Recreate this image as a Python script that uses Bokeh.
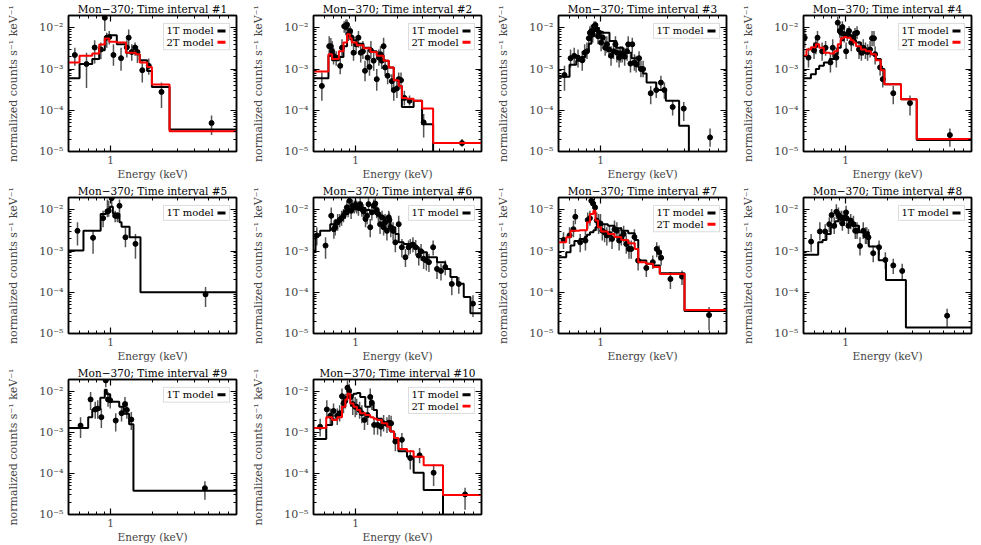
import math
from bokeh.plotting import figure
from bokeh.layouts import gridplot
from bokeh.models import (LogAxis, FixedTicker, CustomJSTickFormatter, BoxAnnotation,
                          Label, Range1d)
from bokeh.embed import file_html
from bokeh.resources import INLINE

# ---------------- axes / text ----------------
X_RANGE = (0.5, 8.0)
Y_RANGE = (1e-5, 2e-2)
X_MAJOR = [1.0]
X_MINOR = [0.5, 0.6, 0.7, 0.8, 0.9, 2.0, 3.0, 4.0, 5.0, 6.0, 7.0, 8.0, 9.0]
Y_MAJOR = [1e-5, 1e-4, 1e-3, 1e-2]
Y_MINOR = [m * 10.0 ** k for k in range(-5, -1) for m in range(2, 10)]
TITLE = "Mon\u2212370; Time interval #{}"
X_LABEL = "Energy (keV)"
Y_LABEL = "normalized counts s\u207b\u00b9 keV\u207b\u00b9"
LEG_1T = "1T model"
LEG_2T = "2T model"

# ---------------- panel 1 ----------------
p1_e = [0.555, 0.673, 0.77, 0.853, 0.91, 0.94, 0.98, 1.05, 1.19, 1.31, 1.35, 1.42, 1.50, 1.56, 1.69, 1.88, 2.32, 5.3]
p1_y = [2.2e-3, 1.33e-3, 3.35e-3, 3.0e-3, 1.76e-2, 5.8e-3, 6.0e-3, 2.2e-3, 1.84e-3, 3.35e-3, 5.8e-3, 2.6e-3, 3.35e-3, 2.6e-3, 9.4e-4, 1.2e-3, 2.8e-4, 4.9e-5]
p1_lo = [1.2e-3, 3.5e-4, 1.36e-3, 1.74e-3, 8.4e-3, 3.3e-3, 3.95e-3, 1.2e-3, 9.1e-4, 1.9e-3, 3.3e-3, 1.6e-3, 2.1e-3, 1.4e-3, 4.7e-4, 7.3e-4, 1.14e-4, 2.5e-5]
p1_hi = [3.3e-3, 2.5e-3, 5.0e-3, 4.4e-3, 2.4e-2, 7.6e-3, 8.4e-3, 4.0e-3, 3.3e-3, 5.0e-3, 9.2e-3, 4.0e-3, 4.4e-3, 3.6e-3, 1.6e-3, 1.8e-3, 4.7e-4, 7.5e-5]
p1_edges = [0.5, 0.6, 0.74, 0.83, 0.91, 0.98, 1.11, 1.29, 1.52, 1.62, 1.83, 1.98, 2.65, 8.0]
p1_m1 = [6.0e-4, 1.33e-3, 1.75e-3, 2.85e-3, 5.5e-3, 6.6e-3, 4.0e-3, 2.5e-3, 2.3e-3, 1.63e-3, 9.0e-4, 3.7e-4, 3.4e-5]
p1_m2 = [1.44e-3, 2.1e-3, 2.4e-3, 3.95e-3, 5.5e-3, 4.6e-3, 4.4e-3, 2.5e-3, 2.3e-3, 1.44e-3, 1.13e-3, 4.2e-4, 3.1e-5]

# ---------------- panel 2 ----------------
p2_e = [0.574, 0.648, 0.666, 0.68, 0.696, 0.727, 0.777, 0.80, 0.83, 0.854, 0.87, 0.89, 0.916, 0.94, 0.968, 1.01, 1.05, 1.09, 1.13, 1.17, 1.22, 1.26, 1.29, 1.35, 1.42, 1.47, 1.51, 1.54, 1.59, 1.63, 1.70, 1.82, 1.88, 1.98, 2.04, 2.12, 2.24, 2.44, 3.08, 5.8]
p2_y = [3.9e-4, 3.6e-3, 3.6e-3, 2.7e-3, 2.1e-3, 1.9e-3, 1.2e-3, 3.3e-3, 1.1e-2, 1.05e-2, 1.2e-2, 7.0e-3, 8.4e-3, 5.8e-3, 2.5e-3, 4.0e-3, 5.8e-3, 2.5e-3, 2.7e-3, 9.1e-4, 1.9e-3, 1.13e-3, 2.85e-3, 1.6e-3, 5.7e-4, 1.9e-3, 2.3e-3, 1.6e-3, 3.6e-3, 1.1e-3, 6.9e-4, 5.1e-4, 3.1e-4, 3.4e-4, 5.7e-4, 5.4e-4, 2.0e-4, 1.7e-4, 5.1e-5, 1.6e-5]
p2_lo = [1.7e-4, 2.3e-3, 2.1e-3, 1.6e-3, 1.3e-3, 1.2e-3, 7.5e-4, 1.9e-3, 7.6e-3, 7.0e-3, 8.4e-3, 4.8e-3, 5.3e-3, 3.6e-3, 1.6e-3, 2.3e-3, 3.3e-3, 1.45e-3, 1.75e-3, 5.1e-4, 1.1e-3, 6.9e-4, 1.75e-3, 9.1e-4, 3.0e-4, 1.2e-3, 1.45e-3, 1.0e-3, 2.3e-3, 6.9e-4, 4.3e-4, 3.3e-4, 1.7e-4, 2.0e-4, 3.6e-4, 3.3e-4, 1.3e-4, 1.3e-4, 2.2e-5, 1.3e-5]
p2_hi = [8.3e-4, 6.3e-3, 5.7e-3, 4.8e-3, 3.3e-3, 2.7e-3, 2.1e-3, 5.3e-3, 1.46e-2, 1.6e-2, 1.6e-2, 1.0e-2, 1.1e-2, 8.4e-3, 4.0e-3, 6.3e-3, 8.4e-3, 4.0e-3, 4.8e-3, 1.6e-3, 3.0e-3, 1.75e-3, 4.8e-3, 2.7e-3, 1.0e-3, 3.0e-3, 3.6e-3, 2.5e-3, 5.8e-3, 1.75e-3, 1.1e-3, 7.5e-4, 5.1e-4, 5.1e-4, 8.3e-4, 8.3e-4, 3.0e-4, 2.3e-4, 8.1e-5, 2.0e-5]
p2_edges = [0.5, 0.64, 0.68, 0.76, 0.82, 0.87, 0.91, 0.94, 1.02, 1.14, 1.28, 1.42, 1.59, 1.73, 1.88, 2.04, 2.15, 2.34, 2.61, 3.0, 3.6, 8.0]
p2_m1 = [6.0e-4, 2.1e-3, 1.63e-3, 1.98e-3, 3.6e-3, 7.0e-3, 6.3e-3, 5.0e-3, 4.1e-3, 3.3e-3, 2.7e-3, 2.2e-3, 1.6e-3, 1.1e-3, 5.4e-4, 3.9e-4, 1.2e-4, 1.2e-4, 1.7e-4, 4.6e-5, 1e-7]
p2_m2 = [8.7e-4, 2.3e-3, 1.75e-3, 2.7e-3, 4.4e-3, 7.0e-3, 5.6e-3, 4.4e-3, 3.8e-3, 3.2e-3, 2.6e-3, 2.1e-3, 1.6e-3, 1.1e-3, 5.4e-4, 3.9e-4, 2.0e-4, 1.9e-4, 1.7e-4, 1.1e-4, 1.6e-5]

# ---------------- panel 3 ----------------
p3_e = [0.552, 0.61, 0.648, 0.69, 0.74, 0.77, 0.80, 0.825, 0.84, 0.86, 0.88, 0.90, 0.92, 0.94, 0.96, 0.98, 1.01, 1.04, 1.08, 1.11, 1.15, 1.19, 1.24, 1.28, 1.31, 1.36, 1.39, 1.43, 1.49, 1.55, 1.58, 1.64, 1.69, 1.75, 1.80, 1.89, 1.95, 2.02, 2.29, 2.51, 2.71, 2.87, 3.29, 3.95, 6.1]
p3_y = [7.2e-4, 1.84e-3, 2.1e-3, 1.9e-3, 1.63e-3, 2.5e-3, 2.7e-3, 5.6e-3, 7.6e-3, 8.4e-3, 7.0e-3, 1.1e-2, 1.17e-2, 9.2e-3, 6.3e-3, 7.6e-3, 4.4e-3, 5.8e-3, 3.3e-3, 4.0e-3, 3.0e-3, 2.1e-3, 2.7e-3, 4.0e-3, 2.5e-3, 1.9e-3, 2.4e-3, 2.3e-3, 2.0e-3, 2.7e-3, 4.0e-3, 1.36e-3, 4.0e-3, 1.45e-3, 1.3e-3, 1.84e-3, 1.0e-3, 1.0e-3, 2.6e-4, 3.1e-4, 4.7e-4, 3.1e-4, 1.2e-4, 1.1e-4, 2.2e-5]
p3_lo = [3.0e-4, 1.1e-3, 1.3e-3, 1.1e-3, 9.1e-4, 1.6e-3, 1.75e-3, 3.6e-3, 4.8e-3, 5.8e-3, 4.4e-3, 7.6e-3, 8.4e-3, 6.3e-3, 4.0e-3, 5.3e-3, 2.7e-3, 3.6e-3, 2.1e-3, 2.5e-3, 1.9e-3, 1.2e-3, 1.75e-3, 2.5e-3, 1.45e-3, 1.1e-3, 1.45e-3, 1.45e-3, 1.2e-3, 1.6e-3, 2.5e-3, 8.3e-4, 2.5e-3, 9.1e-4, 8.3e-4, 1.2e-3, 6.3e-4, 6.3e-4, 1.4e-4, 2.0e-4, 3.0e-4, 1.9e-4, 7.5e-5, 5.5e-5, 1.3e-5]
p3_hi = [1.2e-3, 3.0e-3, 3.3e-3, 3.0e-3, 2.7e-3, 4.0e-3, 4.4e-3, 8.4e-3, 1.1e-2, 1.2e-2, 1.0e-2, 1.46e-2, 1.46e-2, 1.26e-2, 9.2e-3, 1.05e-2, 7.0e-3, 8.4e-3, 5.3e-3, 6.3e-3, 4.8e-3, 3.6e-3, 4.4e-3, 6.3e-3, 4.0e-3, 3.3e-3, 3.6e-3, 3.6e-3, 3.3e-3, 4.4e-3, 6.3e-3, 2.3e-3, 5.8e-3, 2.3e-3, 2.1e-3, 2.7e-3, 1.6e-3, 1.6e-3, 3.9e-4, 4.7e-4, 6.9e-4, 4.7e-4, 1.7e-4, 1.6e-4, 3.6e-5]
p3_edges = [0.5, 0.60, 0.67, 0.73, 0.78, 0.825, 0.86, 0.90, 0.93, 0.97, 1.04, 1.16, 1.30, 1.45, 1.67, 1.87, 2.02, 2.14, 2.51, 2.94, 3.66, 4.3, 8.0]
p3_m1 = [6.5e-4, 1.27e-3, 1.6e-3, 1.98e-3, 2.7e-3, 4.1e-3, 6.3e-3, 8.7e-3, 1.0e-2, 8.1e-3, 7.6e-3, 4.8e-3, 3.3e-3, 2.5e-3, 1.84e-3, 1.1e-3, 7.8e-4, 4.7e-4, 3.1e-4, 1.7e-4, 4.2e-5, 1e-7]

# ---------------- panel 4 ----------------
p4_e = [0.51, 0.543, 0.595, 0.613, 0.63, 0.68, 0.72, 0.78, 0.81, 0.86, 0.88, 0.91, 0.93, 0.95, 0.98, 1.01, 1.03, 1.06, 1.10, 1.14, 1.17, 1.21, 1.25, 1.30, 1.34, 1.39, 1.44, 1.50, 1.55, 1.60, 1.63, 1.77, 1.85, 2.2, 2.9, 5.6]
p4_y = [5.8e-3, 1.9e-3, 2.85e-3, 3.8e-3, 5.8e-3, 2.7e-3, 3.3e-3, 1.45e-3, 3.3e-3, 1.9e-3, 1.34e-2, 8.4e-3, 7.6e-3, 1.05e-2, 7.0e-3, 2.7e-3, 7.0e-3, 8.4e-3, 4.4e-3, 5.8e-3, 7.3e-3, 7.6e-3, 3.0e-3, 2.5e-3, 3.3e-3, 2.7e-3, 2.6e-3, 3.0e-3, 5.6e-3, 5.6e-3, 2.3e-3, 1.1e-3, 5.7e-4, 2.6e-4, 1.5e-4, 2.5e-5]
p4_lo = [3.3e-3, 1.1e-3, 1.75e-3, 2.3e-3, 3.6e-3, 1.6e-3, 2.1e-3, 8.3e-4, 1.9e-3, 1.1e-3, 8.4e-3, 5.8e-3, 5.3e-3, 7.0e-3, 4.4e-3, 1.75e-3, 4.8e-3, 5.8e-3, 2.7e-3, 3.6e-3, 4.8e-3, 5.3e-3, 1.75e-3, 1.6e-3, 2.1e-3, 1.75e-3, 1.6e-3, 1.9e-3, 3.6e-3, 3.6e-3, 1.3e-3, 6.9e-4, 3.6e-4, 1.4e-4, 7.5e-5, 1.3e-5]
p4_hi = [9.2e-3, 3.3e-3, 4.4e-3, 5.8e-3, 8.4e-3, 4.4e-3, 4.8e-3, 2.3e-3, 5.3e-3, 3.3e-3, 1.9e-2, 1.2e-2, 1.05e-2, 1.46e-2, 1.0e-2, 4.4e-3, 1.0e-2, 1.1e-2, 7.0e-3, 8.4e-3, 1.0e-2, 1.1e-2, 4.8e-3, 4.0e-3, 5.3e-3, 4.4e-3, 4.0e-3, 4.8e-3, 8.4e-3, 8.4e-3, 3.6e-3, 1.75e-3, 9.1e-4, 3.9e-4, 2.3e-4, 3.6e-5]
p4_edges = [0.5, 0.525, 0.565, 0.613, 0.648, 0.70, 0.77, 0.83, 0.88, 0.925, 0.97, 1.02, 1.09, 1.14, 1.19, 1.29, 1.40, 1.52, 1.65, 1.79, 1.90, 2.5, 3.24, 8.0]
p4_m1 = [6.0e-4, 6.0e-4, 7.5e-4, 1.0e-3, 1.2e-3, 1.45e-3, 1.75e-3, 2.3e-3, 3.3e-3, 5.0e-3, 6.0e-3, 7.0e-3, 5.8e-3, 5.0e-3, 4.4e-3, 3.3e-3, 2.7e-3, 2.3e-3, 1.75e-3, 1.0e-3, 4.3e-4, 1.85e-4, 1.9e-5]
p4_m2 = [2.1e-3, 3.0e-3, 3.4e-3, 4.0e-3, 3.3e-3, 2.5e-3, 2.4e-3, 2.7e-3, 4.0e-3, 5.6e-3, 6.0e-3, 5.8e-3, 5.0e-3, 4.4e-3, 3.6e-3, 3.0e-3, 2.7e-3, 2.3e-3, 1.63e-3, 9.4e-4, 4.3e-4, 1.85e-4, 2.0e-5]

# ---------------- panel 5 ----------------
p5_e = [0.58, 0.75, 0.885, 0.95, 0.97, 1.02, 1.08, 1.12, 1.16, 1.28, 1.51, 4.8]
p5_y = [3.1e-3, 2.1e-3, 6.3e-3, 9.2e-3, 9.5e-3, 1.93e-2, 7.2e-3, 7.1e-3, 1.26e-2, 2.16e-3, 1.5e-3, 8.9e-5]
p5_lo = [1.36e-3, 8.6e-4, 3.8e-3, 6.6e-3, 6.8e-3, 1.15e-2, 5.0e-3, 5.0e-3, 8.7e-3, 1.24e-3, 6.5e-4, 4.4e-5]
p5_hi = [5.0e-3, 3.1e-3, 9.5e-3, 1.8e-2, 1.66e-2, 2.4e-2, 9.5e-3, 8.7e-3, 1.8e-2, 3.8e-3, 2.6e-3, 1.34e-4]
p5_edges = [0.5, 0.64, 0.85, 0.93, 0.99, 1.04, 1.16, 1.20, 1.37, 1.64, 8.0]
p5_m1 = [1.03e-3, 3.1e-3, 7.9e-3, 9.5e-3, 1.19e-2, 8.2e-3, 5.0e-3, 3.9e-3, 2.16e-3, 1.0e-4]

# ---------------- panel 6 ----------------
p6_e = [0.528, 0.61, 0.67, 0.70, 0.715, 0.745, 0.77, 0.795, 0.82, 0.845, 0.867, 0.885, 0.905, 0.93, 0.95, 0.98, 1.0, 1.02, 1.05, 1.08, 1.11, 1.14, 1.18, 1.21, 1.24, 1.275, 1.31, 1.35, 1.385, 1.42, 1.46, 1.50, 1.55, 1.59, 1.63, 1.68, 1.73, 1.75, 1.79, 1.86, 1.93, 2.04, 2.15, 2.28, 2.40, 2.47, 2.58, 2.70, 2.84, 2.95, 3.08, 3.22, 3.36, 3.60, 3.84, 4.1, 4.4, 4.9, 5.5, 6.95]
p6_y = [2.4e-3, 1.36e-3, 7.2e-3, 3.4e-3, 3.8e-3, 5.0e-3, 5.7e-3, 6.3e-3, 7.2e-3, 8.7e-3, 1.15e-2, 9.9e-3, 1.66e-2, 9.5e-3, 1.26e-2, 1.19e-2, 1.33e-2, 1.19e-2, 1.11e-2, 1.38e-2, 1.05e-2, 9.2e-3, 6.0e-3, 7.2e-3, 1.38e-2, 3.8e-3, 8.7e-3, 1.26e-2, 1.43e-2, 9.9e-3, 7.9e-3, 4.5e-3, 6.6e-3, 3.8e-3, 5.0e-3, 3.1e-3, 6.6e-3, 5.7e-3, 3.8e-3, 3.1e-3, 1.63e-3, 4.5e-3, 1.24e-3, 7.1e-4, 1.24e-3, 1.36e-3, 1.44e-3, 1.24e-3, 7.8e-4, 9.9e-4, 6.5e-4, 5.9e-4, 5.4e-4, 1.24e-3, 3.7e-4, 3.3e-4, 4.1e-4, 1.6e-4, 1.6e-4, 5.3e-5]
p6_lo = [1.36e-3, 6.5e-4, 4.5e-3, 2.0e-3, 2.4e-3, 3.1e-3, 3.8e-3, 4.1e-3, 5.0e-3, 6.0e-3, 7.9e-3, 6.6e-3, 1.15e-2, 6.0e-3, 8.7e-3, 8.2e-3, 9.2e-3, 8.2e-3, 7.2e-3, 9.5e-3, 6.8e-3, 6.0e-3, 3.8e-3, 4.5e-3, 9.5e-3, 2.16e-3, 5.5e-3, 7.9e-3, 9.5e-3, 6.3e-3, 5.0e-3, 2.6e-3, 4.1e-3, 2.4e-3, 3.1e-3, 1.8e-3, 4.1e-3, 3.4e-3, 2.16e-3, 1.8e-3, 9.4e-4, 2.6e-3, 7.1e-4, 4.1e-4, 7.8e-4, 8.6e-4, 9.4e-4, 7.8e-4, 4.5e-4, 5.9e-4, 3.7e-4, 3.4e-4, 3.1e-4, 7.8e-4, 2.1e-4, 1.94e-4, 2.6e-4, 8.5e-5, 9.2e-5, 2.5e-5]
p6_hi = [3.8e-3, 2.16e-3, 1.15e-2, 5.5e-3, 6.0e-3, 7.9e-3, 7.9e-3, 9.5e-3, 1.05e-2, 1.26e-2, 1.66e-2, 1.38e-2, 2.4e-2, 1.38e-2, 1.8e-2, 1.66e-2, 1.8e-2, 1.66e-2, 1.6e-2, 2.0e-2, 1.52e-2, 1.38e-2, 9.2e-3, 1.05e-2, 2.0e-2, 6.0e-3, 1.26e-2, 1.8e-2, 2.0e-2, 1.43e-2, 1.15e-2, 7.2e-3, 9.5e-3, 6.0e-3, 7.9e-3, 5.0e-3, 9.5e-3, 8.7e-3, 6.0e-3, 5.0e-3, 2.6e-3, 7.2e-3, 1.98e-3, 1.13e-3, 1.8e-3, 1.98e-3, 2.16e-3, 1.87e-3, 1.24e-3, 1.49e-3, 1.03e-3, 9.4e-4, 8.6e-4, 1.8e-3, 5.9e-4, 4.9e-4, 5.9e-4, 2.34e-4, 2.34e-4, 8.5e-5]
p6_edges = [0.5, 0.517, 0.558, 0.659, 0.715, 0.777, 0.845, 0.89, 0.94, 0.995, 1.11, 1.18, 1.275, 1.385, 1.50, 1.63, 1.775, 1.93, 2.04, 2.21, 2.61, 2.84, 3.25, 3.84, 4.4, 4.79, 5.35, 5.97, 6.66, 8.0]
p6_m1 = [1.03e-3, 2.4e-3, 3.1e-3, 4.5e-3, 5.5e-3, 6.6e-3, 7.9e-3, 9.5e-3, 1.05e-2, 1.15e-2, 1.11e-2, 9.9e-3, 9.2e-3, 7.9e-3, 6.6e-3, 5.5e-3, 3.8e-3, 2.6e-3, 1.63e-3, 1.49e-3, 1.24e-3, 9.4e-4, 7.1e-4, 5.4e-4, 3.7e-4, 2.34e-4, 1.61e-4, 7.7e-5, 3.1e-5]

# ---------------- panel 7 ----------------
p7_e = [0.543, 0.60, 0.64, 0.66, 0.715, 0.78, 0.81, 0.84, 0.86, 0.885, 0.915, 0.94, 0.97, 1.0, 1.03, 1.07, 1.11, 1.16, 1.21, 1.26, 1.31, 1.36, 1.41, 1.465, 1.53, 1.6, 1.66, 1.75, 1.86, 2.13, 2.37, 2.53, 2.63, 2.72, 3.17, 3.84, 6.0]
p7_y = [1.87e-3, 2.4e-3, 3.4e-3, 6.8e-3, 1.63e-3, 1.8e-3, 5.7e-3, 6.3e-3, 1.66e-2, 1.43e-2, 1.15e-2, 5.5e-3, 4.5e-3, 4.7e-3, 3.1e-3, 2.85e-3, 2.4e-3, 2.6e-3, 1.98e-3, 3.4e-3, 3.1e-3, 1.8e-3, 2.2e-3, 2.6e-3, 1.49e-3, 1.13e-3, 1.13e-3, 2.2e-3, 5.9e-4, 3.9e-4, 5.4e-4, 1.13e-3, 9.4e-4, 6.9e-4, 2.1e-4, 2.4e-4, 2.8e-5]
p7_lo = [1.13e-3, 1.49e-3, 2.16e-3, 4.5e-3, 9.4e-4, 1.03e-3, 3.4e-3, 4.1e-3, 1.26e-2, 1.05e-2, 8.7e-3, 3.1e-3, 2.6e-3, 3.1e-3, 1.8e-3, 1.63e-3, 1.36e-3, 1.63e-3, 1.13e-3, 2.16e-3, 1.98e-3, 1.03e-3, 1.36e-3, 1.63e-3, 8.6e-4, 6.5e-4, 6.5e-4, 1.36e-3, 3.4e-4, 2.34e-4, 3.7e-4, 7.1e-4, 5.9e-4, 4.5e-4, 1.2e-4, 1.5e-4, 1.2e-5]
p7_hi = [2.85e-3, 3.8e-3, 5.5e-3, 1.05e-2, 2.6e-3, 3.1e-3, 8.7e-3, 9.5e-3, 2.2e-2, 1.8e-2, 1.52e-2, 8.7e-3, 7.9e-3, 7.9e-3, 5.0e-3, 4.5e-3, 3.8e-3, 4.1e-3, 3.1e-3, 5.5e-3, 5.0e-3, 2.85e-3, 3.8e-3, 4.1e-3, 2.4e-3, 1.8e-3, 1.8e-3, 3.4e-3, 9.4e-4, 5.9e-4, 7.8e-4, 1.63e-3, 1.36e-3, 1.03e-3, 3.1e-4, 3.4e-4, 4.4e-5]
p7_edges = [0.5, 0.568, 0.61, 0.65, 0.707, 0.77, 0.80, 0.84, 0.89, 0.92, 0.96, 1.01, 1.13, 1.26, 1.41, 1.58, 1.76, 1.865, 2.13, 2.38, 2.66, 4.0, 8.0]
p7_m1 = [7.1e-4, 9.4e-4, 1.36e-3, 1.75e-3, 1.98e-3, 2.2e-3, 2.5e-3, 2.85e-3, 3.2e-3, 3.8e-3, 4.7e-3, 4.5e-3, 4.1e-3, 3.6e-3, 3.1e-3, 2.7e-3, 1.87e-3, 5.9e-4, 4.9e-4, 4.5e-4, 2.9e-4, 3.5e-5]
p7_m2 = [1.63e-3, 2.16e-3, 3.1e-3, 3.1e-3, 3.2e-3, 3.2e-3, 5.0e-3, 7.9e-3, 9.5e-3, 5.5e-3, 3.8e-3, 3.0e-3, 2.6e-3, 2.2e-3, 1.87e-3, 1.55e-3, 1.13e-3, 5.4e-4, 4.9e-4, 4.1e-4, 2.8e-4, 3.7e-5]

# ---------------- panel 8 ----------------
p8_e = [0.567, 0.655, 0.715, 0.765, 0.795, 0.83, 0.86, 0.89, 0.91, 0.94, 0.95, 0.98, 1.01, 1.02, 1.05, 1.09, 1.14, 1.175, 1.21, 1.27, 1.34, 1.39, 1.42, 1.46, 1.58, 1.74, 1.93, 2.2, 2.55, 5.35]
p8_y = [1.7e-3, 3.0e-3, 3.0e-3, 4.5e-3, 7.5e-3, 4.1e-3, 9.0e-3, 7.6e-3, 6.8e-3, 6.3e-3, 4.7e-3, 6.3e-3, 8.7e-3, 6.3e-3, 4.1e-3, 5.5e-3, 4.5e-3, 3.1e-3, 3.1e-3, 1.33e-3, 3.1e-3, 2.4e-3, 2.4e-3, 2.16e-3, 8.9e-4, 1.24e-3, 6.1e-4, 4.5e-4, 3.3e-4, 2.7e-5]
p8_lo = [9.4e-4, 1.8e-3, 1.98e-3, 2.85e-3, 5.0e-3, 2.6e-3, 6.0e-3, 5.0e-3, 4.5e-3, 4.1e-3, 3.1e-3, 4.1e-3, 6.0e-3, 4.1e-3, 2.6e-3, 3.4e-3, 2.85e-3, 1.98e-3, 1.98e-3, 7.8e-4, 1.98e-3, 1.49e-3, 1.49e-3, 1.36e-3, 5.4e-4, 7.8e-4, 3.7e-4, 2.8e-4, 1.94e-4, 1.45e-5]
p8_hi = [2.6e-3, 5.0e-3, 4.5e-3, 6.6e-3, 1.05e-2, 6.6e-3, 1.38e-2, 1.15e-2, 9.5e-3, 9.5e-3, 7.2e-3, 9.5e-3, 1.26e-2, 9.5e-3, 6.6e-3, 7.9e-3, 7.2e-3, 5.0e-3, 5.0e-3, 2.16e-3, 5.0e-3, 3.8e-3, 3.8e-3, 3.4e-3, 1.36e-3, 1.8e-3, 9.4e-4, 6.5e-4, 4.9e-4, 4.0e-5]
p8_edges = [0.5, 0.637, 0.685, 0.73, 0.784, 0.845, 0.89, 0.94, 1.02, 1.06, 1.15, 1.25, 1.47, 1.73, 1.95, 2.71, 8.0]
p8_m1 = [8.2e-4, 1.63e-3, 1.87e-3, 2.6e-3, 3.8e-3, 5.3e-3, 6.6e-3, 7.2e-3, 5.7e-3, 5.0e-3, 4.1e-3, 2.85e-3, 1.3e-3, 6.0e-4, 2.0e-4, 1.4e-5]

# ---------------- panel 9 ----------------
p9_e = [0.61, 0.72, 0.777, 0.81, 0.86, 0.925, 0.96, 0.995, 1.09, 1.2, 1.27, 1.31, 1.41, 4.75]
p9_y = [1.49e-3, 6.5e-3, 3.7e-3, 3.9e-3, 2.4e-3, 1.9e-2, 6.5e-3, 6.2e-3, 1.98e-3, 3.0e-3, 5.0e-3, 3.6e-3, 2.1e-3, 4.4e-5]
p9_lo = [7.4e-4, 3.6e-3, 2.2e-3, 2.2e-3, 1.3e-3, 1.3e-2, 4.3e-3, 3.9e-3, 1.07e-3, 1.87e-3, 3.0e-3, 2.2e-3, 1.17e-3, 2.3e-5]
p9_hi = [2.4e-3, 9.9e-3, 5.7e-3, 6.2e-3, 3.9e-3, 2.5e-2, 9.9e-3, 9.0e-3, 3.0e-3, 4.3e-3, 7.5e-3, 5.7e-3, 3.2e-3, 6.5e-5]
p9_edges = [0.5, 0.692, 0.74, 0.845, 0.91, 0.94, 0.995, 1.155, 1.24, 1.36, 1.46, 8.0]
p9_m1 = [1.3e-3, 2.4e-3, 3.7e-3, 7.2e-3, 1.13e-2, 8.7e-3, 5.7e-3, 4.3e-3, 2.9e-3, 1.6e-3, 3.8e-5]

# ---------------- panel 10 ----------------
p10_e = [0.558, 0.623, 0.66, 0.696, 0.74, 0.77, 0.80, 0.82, 0.845, 0.876, 0.90, 0.925, 0.956, 0.995, 1.02, 1.07, 1.11, 1.16, 1.22, 1.275, 1.31, 1.36, 1.44, 1.52, 1.59, 1.68, 1.74, 1.8, 1.93, 2.15, 2.47, 2.88, 3.63, 6.1]
p10_y = [1.4e-3, 3.7e-3, 2.6e-3, 3.4e-3, 2.6e-3, 3.0e-3, 7.8e-3, 5.2e-3, 6.0e-3, 1.26e-2, 1.05e-2, 7.5e-3, 5.0e-3, 4.3e-3, 4.3e-3, 3.6e-3, 3.0e-3, 2.05e-3, 2.7e-3, 7.5e-3, 5.4e-3, 1.55e-3, 1.55e-3, 1.4e-3, 1.7e-3, 1.63e-3, 1.76e-3, 1.7e-3, 6.1e-4, 6.7e-4, 2.4e-4, 2.8e-4, 1.05e-4, 3.1e-5]
p10_lo = [8.1e-4, 2.2e-3, 1.55e-3, 2.05e-3, 1.55e-3, 1.87e-3, 5.2e-3, 3.0e-3, 3.9e-3, 8.2e-3, 6.8e-3, 4.3e-3, 2.7e-3, 2.4e-3, 2.7e-3, 2.2e-3, 1.7e-3, 1.17e-3, 1.55e-3, 4.7e-3, 3.6e-3, 8.9e-4, 8.9e-4, 8.1e-4, 1.07e-3, 9.8e-4, 1.13e-3, 1.07e-3, 3.5e-4, 4.2e-4, 1.26e-4, 1.8e-4, 5.0e-5, 1.3e-5]
p10_hi = [2.2e-3, 6.2e-3, 3.9e-3, 5.2e-3, 3.9e-3, 4.7e-3, 1.2e-2, 8.2e-3, 9.0e-3, 1.9e-2, 1.57e-2, 1.2e-2, 8.2e-3, 7.5e-3, 6.8e-3, 5.7e-3, 4.7e-3, 3.2e-3, 4.3e-3, 1.2e-2, 8.2e-3, 2.4e-3, 2.4e-3, 2.2e-3, 2.7e-3, 2.4e-3, 2.7e-3, 2.6e-3, 9.8e-4, 9.8e-4, 3.8e-4, 4.2e-4, 1.7e-4, 4.5e-5]
p10_edges = [0.5, 0.617, 0.68, 0.74, 0.80, 0.845, 0.876, 0.916, 0.968, 1.023, 1.081, 1.175, 1.275, 1.347, 1.424, 1.545, 1.69, 1.775, 1.89, 2.03, 2.34, 2.61, 3.08, 4.24, 8.0]
p10_m1 = [7.0e-4, 1.55e-3, 2.1e-3, 2.7e-3, 4.3e-3, 7.5e-3, 9.0e-3, 8.2e-3, 9.0e-3, 9.4e-3, 7.5e-3, 4.3e-3, 5.2e-3, 3.6e-3, 2.2e-3, 1.7e-3, 1.55e-3, 1.07e-3, 6.7e-4, 3.5e-4, 2.6e-4, 1.05e-4, 4.0e-5, 1e-7]
p10_m2 = [1.3e-3, 2.4e-3, 2.05e-3, 2.4e-3, 4.3e-3, 6.5e-3, 9.0e-3, 5.2e-3, 4.3e-3, 3.6e-3, 3.0e-3, 2.7e-3, 2.4e-3, 2.2e-3, 2.05e-3, 1.7e-3, 1.4e-3, 1.07e-3, 7.4e-4, 4.0e-4, 3.5e-4, 2.6e-4, 1.6e-4, 3.0e-5]

PANELS = [
    (1, p1_e, p1_y, p1_lo, p1_hi, p1_edges, p1_m1, p1_m2),
    (2, p2_e, p2_y, p2_lo, p2_hi, p2_edges, p2_m1, p2_m2),
    (3, p3_e, p3_y, p3_lo, p3_hi, p3_edges, p3_m1, None),
    (4, p4_e, p4_y, p4_lo, p4_hi, p4_edges, p4_m1, p4_m2),
    (5, p5_e, p5_y, p5_lo, p5_hi, p5_edges, p5_m1, None),
    (6, p6_e, p6_y, p6_lo, p6_hi, p6_edges, p6_m1, None),
    (7, p7_e, p7_y, p7_lo, p7_hi, p7_edges, p7_m1, p7_m2),
    (8, p8_e, p8_y, p8_lo, p8_hi, p8_edges, p8_m1, None),
    (9, p9_e, p9_y, p9_lo, p9_hi, p9_edges, p9_m1, None),
    (10, p10_e, p10_y, p10_lo, p10_hi, p10_edges, p10_m1, p10_m2),
]

# ---------------- styling / layout ----------------
FONT = "DejaVu Serif"
FIG_W = 245
BORDER_L, BORDER_R, BORDER_T = 68, 9, 14
FRAME_W, FRAME_H = FIG_W - BORDER_L - BORDER_R, 137
RED = "#ff0000"

LX0, LX1 = math.log10(X_RANGE[0]), math.log10(X_RANGE[1])
LY0, LY1 = math.log10(Y_RANGE[0]), math.log10(Y_RANGE[1])


def fx(px):
    """frame pixel offset (from left) -> data x"""
    return 10 ** (LX0 + px / FRAME_W * (LX1 - LX0))


def fy(py):
    """frame pixel offset (from top) -> data y"""
    return 10 ** (LY1 - py / FRAME_H * (LY1 - LY0))


SUP_JS = """
const sup = {"-": "\u207b", "0": "\u2070", "1": "\u00b9", "2": "\u00b2", "3": "\u00b3",
             "4": "\u2074", "5": "\u2075", "6": "\u2076", "7": "\u2077", "8": "\u2078", "9": "\u2079"};
const e = Math.round(Math.log10(tick));
return "10" + String(e).split("").map(c => sup[c]).join("");
"""


def style_axis(ax, hidden=False):
    ax.major_tick_in = 6
    ax.major_tick_out = 0
    ax.minor_tick_in = 3
    ax.minor_tick_out = 0
    ax.axis_line_color = "black"
    ax.axis_line_width = 1.5
    ax.major_tick_line_color = "black"
    ax.major_tick_line_width = 1.2
    ax.minor_tick_line_color = "black"
    ax.minor_tick_line_width = 1
    if hidden:
        ax.major_label_text_font_size = "0px"
        ax.major_label_standoff = 0
        ax.formatter = CustomJSTickFormatter(code="return '';")


def make_panel(idx, e, y, lo, hi, edges, m1, m2, bottom):
    p = figure(width=FIG_W, height=BORDER_T + FRAME_H + bottom,
               x_axis_type="log", y_axis_type="log",
               x_range=Range1d(*X_RANGE), y_range=Range1d(*Y_RANGE),
               output_backend="svg", toolbar_location=None,
               min_border_left=BORDER_L, min_border_right=BORDER_R,
               min_border_top=BORDER_T, min_border_bottom=bottom)
    p.xgrid.visible = False
    p.ygrid.visible = False
    p.outline_line_color = "black"
    p.outline_line_width = 1.5
    p.background_fill_color = "white"
    p.border_fill_color = "white"

    p.title.text = TITLE.format(idx)
    p.title.align = "center"
    p.title.text_font = FONT
    p.title.text_font_size = "10.5px"
    p.title.text_font_style = "normal"
    p.title.text_color = "black"
    p.title.standoff = 1

    xa = p.xaxis[0]
    xa.ticker = FixedTicker(ticks=X_MAJOR, minor_ticks=X_MINOR)
    xa.formatter = CustomJSTickFormatter(code="return String(tick);")
    xa.axis_label = X_LABEL
    xa.axis_label_text_font = FONT
    xa.axis_label_text_font_size = "10.5px"
    xa.axis_label_text_font_style = "normal"
    xa.axis_label_standoff = 1
    xa.major_label_text_font = FONT
    xa.major_label_text_font_size = "10.5px"
    xa.major_label_standoff = 4
    style_axis(xa)

    ya = p.yaxis[0]
    ya.ticker = FixedTicker(ticks=Y_MAJOR, minor_ticks=Y_MINOR)
    ya.formatter = CustomJSTickFormatter(code=SUP_JS)
    ya.axis_label = Y_LABEL
    ya.axis_label_text_font = FONT
    ya.axis_label_text_font_size = "11px"
    ya.axis_label_text_font_style = "normal"
    ya.axis_label_standoff = 16
    ya.major_label_text_font = FONT
    ya.major_label_text_font_size = "11px"
    ya.major_label_standoff = 5
    style_axis(ya)

    ra = LogAxis(ticker=FixedTicker(ticks=Y_MAJOR, minor_ticks=Y_MINOR))
    style_axis(ra, hidden=True)
    p.add_layout(ra, "right")
    ta = LogAxis(ticker=FixedTicker(ticks=X_MAJOR, minor_ticks=X_MINOR))
    style_axis(ta, hidden=True)
    p.add_layout(ta, "above")

    # data with error bars
    p.segment(x0=e, y0=lo, x1=e, y1=hi, line_color="#555555", line_width=1.5)
    p.scatter(e, y, size=5, color="black")

    # model step lines
    p.step(edges, list(m1) + [m1[-1]], mode="after", line_color="black", line_width=2)
    if m2 is not None:
        p.step(edges, list(m2) + [m2[-1]], mode="after", line_color=RED, line_width=2)

    # legend (text followed by a short sample bar)
    entries = [(LEG_1T, "black")] + ([(LEG_2T, RED)] if m2 is not None else [])
    box_bottom = 8 + 3 + 11.5 * len(entries) + 0.5
    p.add_layout(BoxAnnotation(left=fx(95), right=fx(161), top=fy(8), bottom=fy(box_bottom),
                               fill_color="white", fill_alpha=1.0,
                               line_color="#8c8c8c", line_width=1))
    for k, (txt, col) in enumerate(entries):
        yc = 15.5 + 11.5 * k
        p.add_layout(Label(x=fx(98), y=fy(yc), text=txt, text_font=FONT,
                           text_font_size="10px", text_baseline="middle",
                           text_align="left", text_color="black"))
        p.add_layout(BoxAnnotation(left=fx(149), right=fx(157), top=fy(yc - 1.5),
                                   bottom=fy(yc + 1.5), fill_color=col, fill_alpha=1.0,
                                   line_alpha=0))
    return p


figs = []
for i, panel in enumerate(PANELS):
    bottom = 31 if i < 8 else 30
    figs.append(make_panel(*panel, bottom=bottom))

rows = [figs[0:4], figs[4:8], figs[8:10] + [None, None]]
grid = gridplot(rows, toolbar_location=None)

with open("out.html", "w", encoding="utf-8") as f:
    f.write(file_html(grid, INLINE))
